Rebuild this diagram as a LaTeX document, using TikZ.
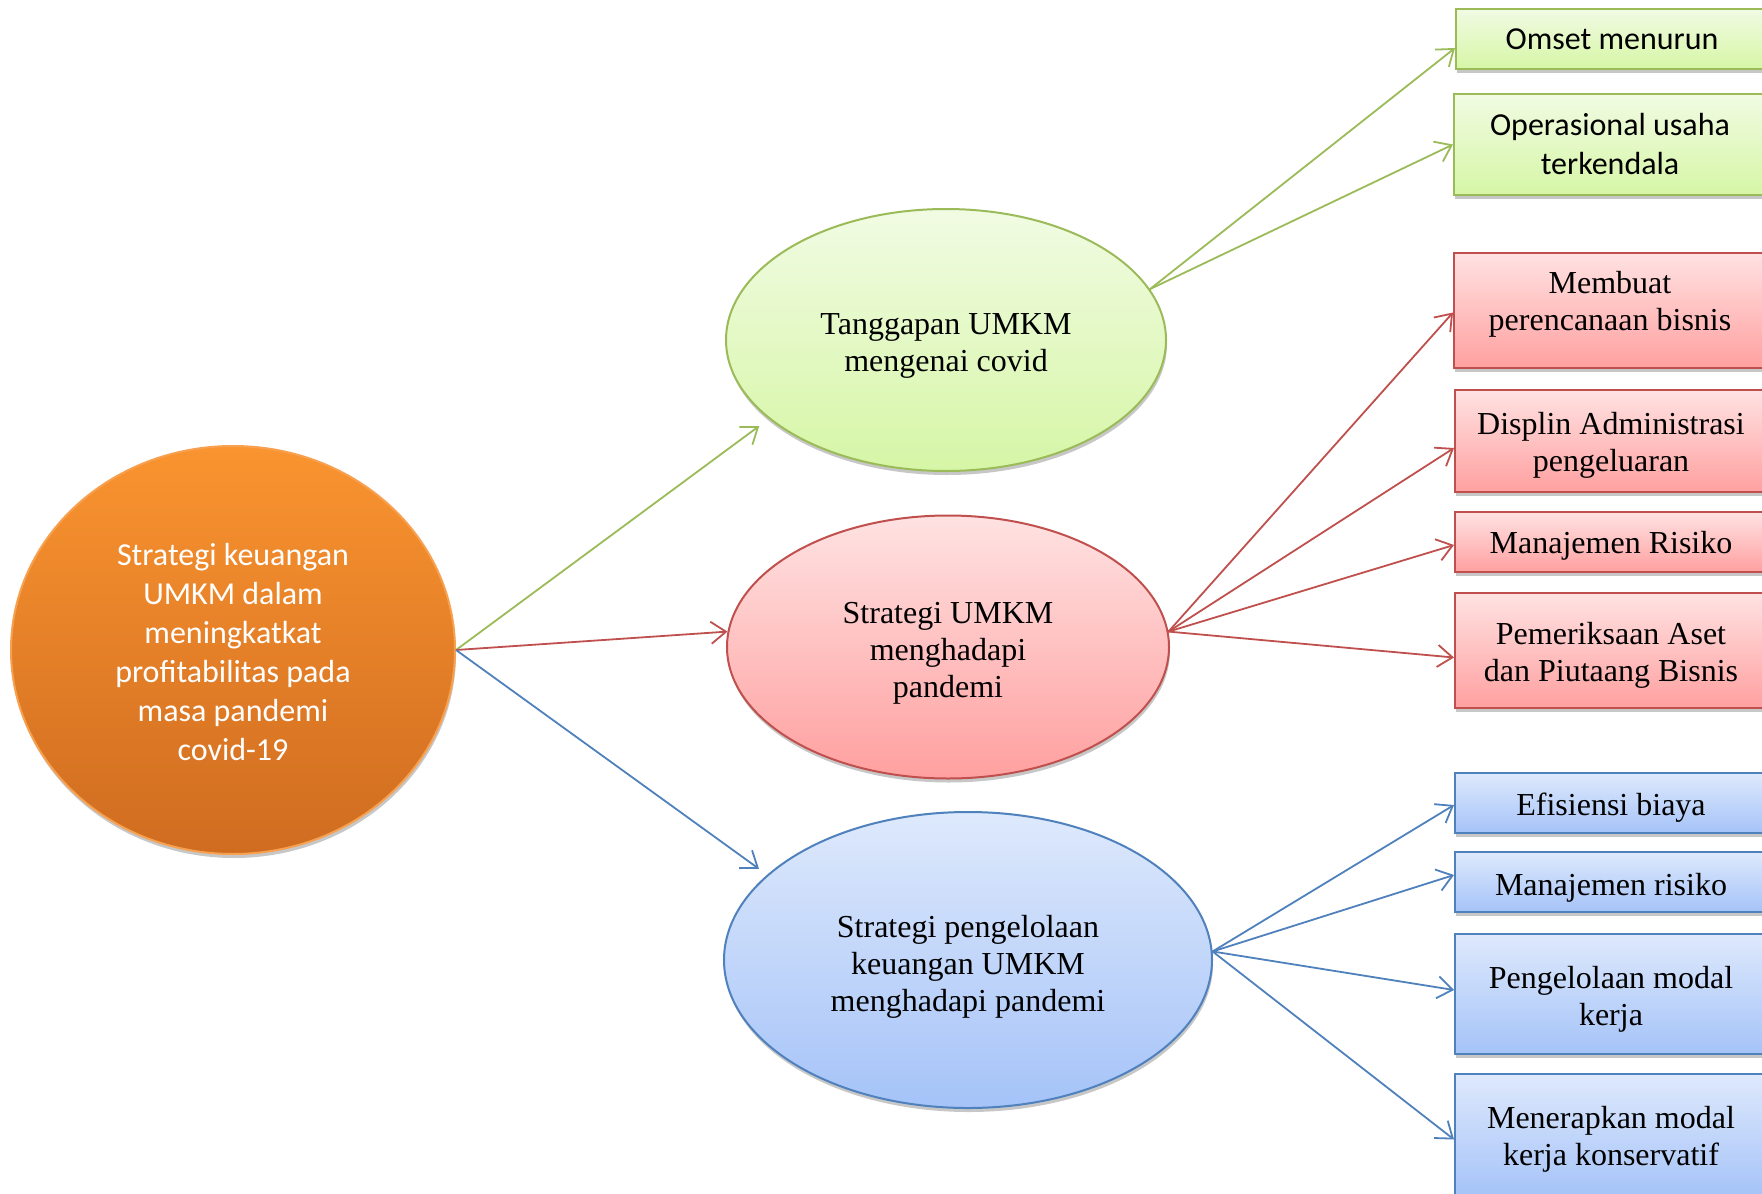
\documentclass[tikz,border=0pt]{standalone}
\usepackage{fontspec}
\setmainfont{Liberation Serif}
\newfontfamily\calfont{Carlito}
\usetikzlibrary{shapes.geometric,arrows.meta,shadows}
\newcommand\topstrut[1]{\rule{0pt}{#1}}
\newcommand\botstrut[1]{\rule[-#1]{0pt}{#1}}
\definecolor{gline}{HTML}{9BBB59}
\definecolor{rline}{HTML}{C0504D}
\definecolor{bline}{HTML}{4F81BD}
\definecolor{oline}{HTML}{F7A050}
\definecolor{gtop}{HTML}{F1FBE3}
\definecolor{gbot}{HTML}{D6F6A6}
\definecolor{rtop}{HTML}{FFE2E2}
\definecolor{rbot}{HTML}{FFA0A0}
\definecolor{btop}{HTML}{DEE9FC}
\definecolor{bbot}{HTML}{A5C3F8}
\definecolor{otop}{HTML}{FA9430}
\definecolor{obot}{HTML}{CF6C20}
\begin{document}
\begin{tikzpicture}[x=1pt,y=-1pt,
  shade/.style={drop shadow={shadow xshift=1pt,shadow yshift=-4pt,opacity=0.22,fill=black}},
  conn/.style={line width=1.8pt,-{Straight Barb[length=15pt,width=22pt]}},
  serifx/.style={font=\fontsize{32}{37}\selectfont,align=center,text=black},
  califx/.style={font=\calfont\fontsize{32}{39}\selectfont,align=center},
  oval/.style={ellipse,line width=2pt,inner sep=0pt,shade},
  gbox/.style={rectangle,draw=gline,line width=2pt,top color=gtop,bottom color=gbot,
    anchor=north west,minimum width=312pt,inner sep=0pt,shade,califx,text=black},
  rbox/.style={rectangle,draw=rline,line width=2pt,top color=rtop,bottom color=rbot,
    anchor=north west,minimum width=312pt,inner sep=0pt,shade,serifx},
  bbox/.style={rectangle,draw=bline,line width=2pt,top color=btop,bottom color=bbot,
    anchor=north west,minimum width=312pt,inner sep=0pt,shade,serifx},
]
\useasboundingbox (0,0) rectangle (1762,1194);
\fill[white] (0,0) rectangle (1762,1194);

% main circle
\node[oval,draw=oline,top color=otop,bottom color=obot,minimum width=444pt,minimum height=408pt,
  califx,text=white] (main) at (233,650)
  {\topstrut{26pt}Strategi keuangan\\UMKM dalam\\meningkatkat\\profitabilitas pada\\masa pandemi\\covid-19};

% ellipses
\node[oval,draw=gline,top color=gtop,bottom color=gbot,minimum width=440pt,minimum height=262pt,serifx]
  (green) at (946,340) {\topstrut{32pt}Tanggapan UMKM\\mengenai covid};
\node[oval,draw=rline,top color=rtop,bottom color=rbot,minimum width=442pt,minimum height=263pt,serifx]
  (red) at (948,647) {\topstrut{33pt}Strategi UMKM\\menghadapi\\pandemi};
\node[oval,draw=bline,top color=btop,bottom color=bbot,minimum width=488pt,minimum height=296pt,serifx]
  (blue) at (968,960) {\topstrut{35pt}Strategi pengelolaan\\keuangan UMKM\\menghadapi pandemi};

% green boxes
\node[gbox,minimum height=60pt] (g1) at (1455,8) {Omset menurun};
\node[gbox,minimum height=101pt] (g2) at (1453,93) {Operasional usaha\\terkendala};
% red boxes
\node[rbox,minimum height=115pt] (r1) at (1453,252) {Membuat\\perencanaan bisnis\botstrut{20pt}};
\node[rbox,minimum height=102pt] (r2) at (1454,389) {\topstrut{31pt}Displin Administrasi\\pengeluaran};
\node[rbox,minimum height=60pt] (r3) at (1454,511) {\topstrut{29pt}Manajemen Risiko};
\node[rbox,minimum height=115pt] (r4) at (1454,592) {\topstrut{31pt}Pemeriksaan Aset\\dan Piutaang Bisnis};
% blue boxes
\node[bbox,minimum height=60pt] (b1) at (1454,772) {\topstrut{31pt}Efisiensi biaya};
\node[bbox,minimum height=60pt] (b2) at (1454,851) {\topstrut{33pt}Manajemen risiko};
\node[bbox,minimum height=120pt] (b3) at (1454,933) {\topstrut{33pt}Pengelolaan modal\\kerja};
\node[bbox,minimum height=123pt] (b4) at (1454,1073) {\topstrut{29pt}Menerapkan modal\\kerja konservatif};

% connectors from main
\draw[conn,gline,shorten >=12pt] (main.east) -- (green.204);
\draw[conn,rline] (main.east) -- (red.176);
\draw[conn,bline,shorten >=10pt] (main.east) -- (blue.157);

% green
\draw[conn,gline] (green.14) -- ([yshift=-9pt]g1.west);
\draw[conn,gline] (green.14) -- (g2.west);
% red
\draw[conn,rline] (red.4) -- ([yshift=-2pt]r1.west);
\draw[conn,rline] (red.4) -- ([yshift=-7pt]r2.west);
\draw[conn,rline] (red.4) -- ([yshift=-3pt]r3.west);
\draw[conn,rline] (red.4) -- ([yshift=-7pt]r4.west);
% blue
\draw[conn,bline] (blue.2) -- ([yshift=-2pt]b1.west);
\draw[conn,bline] (blue.2) -- ([yshift=7pt]b2.west);
\draw[conn,bline] (blue.2) -- ([yshift=4pt]b3.west);
\draw[conn,bline] (blue.2) -- ([yshift=-4pt]b4.west);
\end{tikzpicture}
\end{document}
